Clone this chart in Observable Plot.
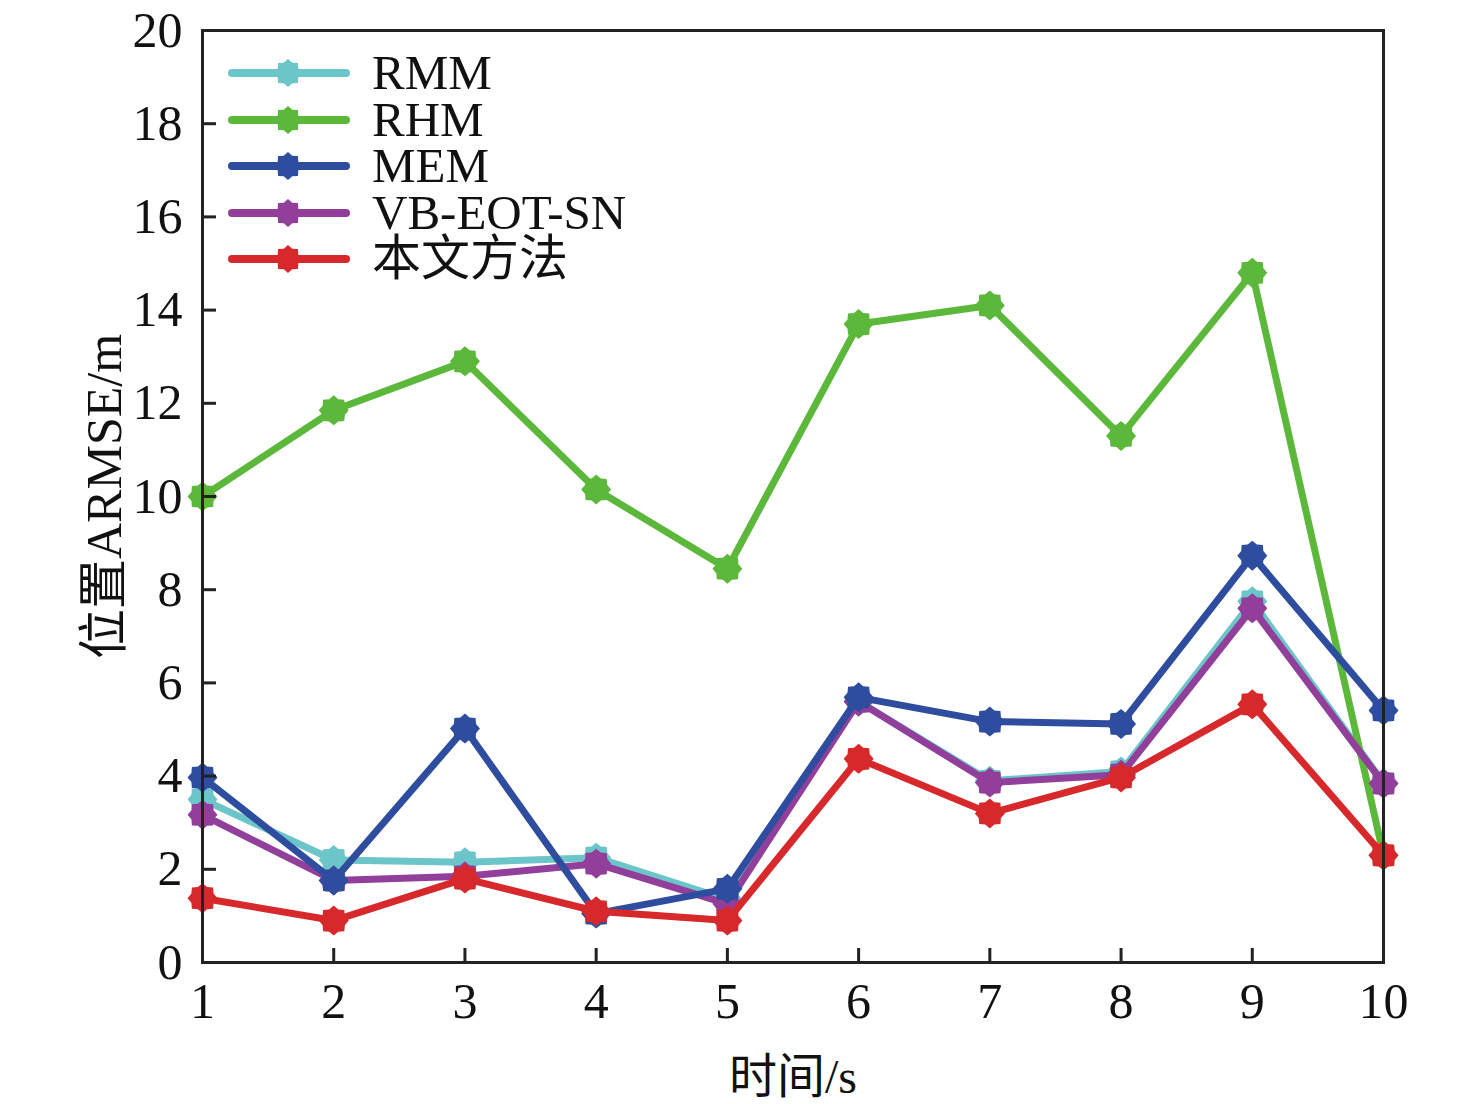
<!DOCTYPE html>
<html><head><meta charset="utf-8">
<script src="https://cdn.jsdelivr.net/npm/d3@7"></script>
<script src="https://cdn.jsdelivr.net/npm/@observablehq/plot@0.6"></script>
<style>
html,body{margin:0;padding:0;background:#fff;}
#wrap{position:relative;width:1476px;height:1104px;font-family:"Liberation Serif","Noto Sans CJK SC",serif;}
#legend{position:absolute;left:226px;top:50px;}
.row{display:flex;align-items:center;height:46.5px;}
.row span{font-size:49px;margin-left:20px;color:#111;line-height:46px;}
</style></head>
<body><div id="wrap"><div id="legend"></div></div>
<script>
const times = [1,2,3,4,5,6,7,8,9,10];
const seriesNames = ["RMM","RHM","MEM","VB-EOT-SN","本文方法"];
const seriesColors = ["#6cc5c8","#5cb83a","#2f4d9e","#913f9b","#d7282b"];
const rmm = [3.5,2.2,2.15,2.25,1.35,5.6,3.9,4.1,7.75,3.85];
const rhm = [10.0,11.85,12.9,10.15,8.45,13.7,14.1,11.3,14.8,2.3];
const mem = [3.97,1.76,5.02,1.05,1.58,5.69,5.17,5.12,8.73,5.41];
const vb  = [3.17,1.76,1.85,2.12,1.26,5.6,3.86,4.03,7.6,3.84];
const ours= [1.38,0.9,1.8,1.1,0.9,4.37,3.2,3.97,5.54,2.3];
const yTicks = [0,2,4,6,8,10,12,14,16,18,20];

const valuesBySeries = [rmm, rhm, mem, vb, ours];
const drawOrder = [0,1,3,2,4];
const data = [];
for (const s of drawOrder) {
  times.forEach((t,i)=>data.push({t, v: valuesBySeries[s][i], name: seriesNames[s], order: s}));
}

const star = {
  draw(context, size) {
    const r = Math.sqrt(size/Math.PI);
    const n = 8;
    for (let k = 0; k < 2*n; k++) {
      const a = Math.PI*k/n - Math.PI/2;
      const rr = k%2===0 ? r : r*0.8;
      const x = rr*Math.cos(a), y = rr*Math.sin(a);
      if (k===0) context.moveTo(x,y); else context.lineTo(x,y);
    }
    context.closePath();
  }
};

const font = '"Liberation Serif","Noto Sans CJK SC",serif';

const marks = [];
for (const s of drawOrder) {
  const d = data.filter(p=>p.order===s);
  marks.push(Plot.line(d, {x:"t", y:"v", stroke: seriesColors[s], strokeWidth: 7, strokeLinejoin:"round"}));
  marks.push(Plot.dot(d, {x:"t", y:"v", fill: seriesColors[s], r: 15, symbol: star}));
}

const chart = Plot.plot({
  width: 1476, height: 1104,
  marginLeft: 202, marginRight: 93, marginTop: 30, marginBottom: 142,
  style: {fontFamily: font, fontSize: "50px", color: "#111", background: "#fff"},
  x: {domain: [1,10]},
  y: {domain: [0,20]},
  marks: [
    ...marks,
    Plot.frame({stroke:"#222", strokeWidth: 3}),
    Plot.axisY(yTicks, {tickSize: -14, strokeWidth: 3, stroke:"#222", fill:"none", label:null}),
    Plot.axisY(yTicks, {tickSize: 0, tickPadding: 20, label:null, fill:"#111", fontSize: 50}),
    Plot.axisX(times, {tickSize: -14, strokeWidth: 3, stroke:"#222", fill:"none", label:null}),
    Plot.axisX(times, {tickSize: 0, tickPadding: 20, label:null, fill:"#111", fontSize: 50, tickFormat: d3.format("d")}),
    Plot.text(["时间/s"], {frameAnchor:"bottom", dy: 130, fontSize: 48, fill:"#111", textAnchor:"middle", lineAnchor:"bottom"}),
    Plot.text(["位置ARMSE/m"], {frameAnchor:"left", dx: -82, rotate: -90, fontSize: 50, fill:"#111", textAnchor:"middle", lineAnchor:"bottom"})
  ]
});
document.getElementById("wrap").prepend(chart);

const legend = document.getElementById("legend");
seriesNames.forEach((name,i)=>{
  const row = document.createElement("div");
  row.className = "row";
  const svg = d3.create("svg").attr("width",126).attr("height",40);
  svg.append("line").attr("x1",6).attr("x2",120).attr("y1",20).attr("y2",20)
    .attr("stroke",seriesColors[i]).attr("stroke-width",8).attr("stroke-linecap","round");
  svg.append("path").attr("transform","translate(62,20)")
    .attr("d", d3.symbol(star, Math.PI*14*14)()).attr("fill",seriesColors[i]);
  row.appendChild(svg.node());
  const sp = document.createElement("span");
  sp.textContent = name;
  row.appendChild(sp);
  legend.appendChild(row);
});
</script></body></html>
